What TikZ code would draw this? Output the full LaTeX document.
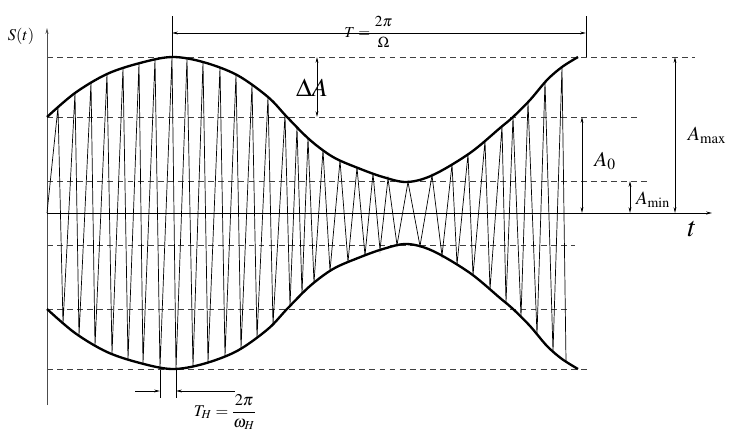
\documentclass[tikz,border=0pt]{standalone}
\usepackage{amsmath}
\usepackage{mathptmx}
\usetikzlibrary{arrows.meta,intersections}

\tikzset{
  envline/.style={line width=2pt, line join=round},
  carrier/.style={line width=0.6pt, line join=miter},
  guide/.style={black!75, line width=0.8pt, dash pattern=on 5pt off 3.6pt},
  axisline/.style={line width=0.7pt, -{Stealth[length=5pt,width=2.6pt]}},
  dimarrow/.style={line width=0.55pt, {Stealth[length=5pt,width=2.4pt]}-{Stealth[length=5pt,width=2.4pt]}},
  onearrow/.style={line width=0.55pt, -{Stealth[length=5pt,width=2.4pt]}},
  tick/.style={line width=0.55pt},
  lbl/.style={inner sep=0pt},
}

\begin{document}
\begin{tikzpicture}[x=0.03cm, y=-0.03cm]
\useasboundingbox (0,0) rectangle (731,438);

% dashed levels
\foreach \yy/\xend in {57/695, 117/638, 181/647, 245/575, 309/567, 369/587}
  \draw[guide] (47,\yy) -- (\xend,\yy);

% axes
\coordinate (O) at (47,213);
\coordinate (ybot) at (47,405);
\coordinate (ytop) at (47,28);
\coordinate (tend) at (712,213);
\draw[axisline, black!70] (ybot) -- (ytop);
\draw[axisline] (O) -- (tend);
\node[lbl] (St) at (21,36) {\fontsize{14}{16}\selectfont $S(t)$};
\node[lbl] (tlab) at (692,229) {\fontsize{24}{26}\selectfont $t$};

% envelope
\draw[envline, name path=upenv] plot[smooth, tension=0.55] coordinates {
  (47,117) (75,93) (107,74) (140,63) (172,57) (203,62) (237,75) (268,97)
  (287,117) (310,140) (333,157) (358,168) (383,177) (407,182) (433,175)
  (470,153) (500,128) (513,117) (530,100) (547,80) (562,67) (578,57)};
\draw[envline, name path=lowenv] plot[smooth, tension=0.55] coordinates {
  (47,309) (75,333) (107,352) (140,363) (172,369) (203,364) (237,351) (268,329)
  (287,309) (310,286) (333,269) (358,258) (383,249) (407,244) (433,251)
  (470,273) (500,298) (513,309) (530,326) (547,346) (562,359) (578,369)};

% carrier tips on the envelope
\foreach \xt/\xb [count=\k] in {58/63, 75/79, 91/95, 107/112, 123/128, 139/143,
    155/160, 172/176, 187/193, 203/208, 220/225, 236/241, 252/257, 268/273,
    285/290, 297/302, 308/314, 323/330, 340/348, 357/365, 373/380, 388/397,
    408/420, 432/442, 452/457, 468/473, 485/490, 502/506, 513/521, 528/537,
    545/553, 562/566} {
  \path[name path=vt] (\xt,0) -- (\xt,213);
  \path[name path=vb] (\xb,213) -- (\xb,438);
  \path[name intersections={of=upenv and vt, by={tp\k}}];
  \path[name intersections={of=lowenv and vb, by={bt\k}}];
}
\draw[carrier] (O) foreach \k in {1,...,32} { -- (tp\k) -- (bt\k) };

% period T
\coordinate (Ta) at (172,33);
\coordinate (Tb) at (586,33);
\draw[tick] (172,16) -- (172,57);
\draw[tick] (586,16) -- (586,57);
\draw[dimarrow] (Ta) -- (Tb);
\node[lbl] (Tlab) at (369,32) {\fontsize{13}{15}\selectfont $T=\dfrac{2\pi}{\Omega}$};

% amplitudes
\coordinate (dA1) at (317,57);   \coordinate (dA2) at (317,117);
\coordinate (A01) at (582,117);  \coordinate (A02) at (582,213);
\coordinate (Am1) at (630,181);  \coordinate (Am2) at (630,213);
\coordinate (AM1) at (675,57);   \coordinate (AM2) at (675,213);
\draw[dimarrow] (dA1) -- (dA2);
\draw[dimarrow] (A01) -- (A02);
\draw[dimarrow] (Am1) -- (Am2);
\draw[dimarrow] (AM1) -- (AM2);
\node[lbl] (dAlab) at (312,88) {\fontsize{22}{24}\selectfont $\Delta A$};
\node[lbl] (A0lab) at (605,161) {\fontsize{18}{20}\selectfont $A_0$};
\node[lbl] (Aminlab) at (653,200) {\fontsize{16}{18}\selectfont $A_{\min}$};
\node[lbl] (Amaxlab) at (707,135) {\fontsize{17}{19}\selectfont $A_{\max}$};

% carrier period
\coordinate (Th1) at (160,391);
\coordinate (Th2) at (176,391);
\coordinate (Thl) at (135,391);
\coordinate (Thr) at (235,391);
\draw[tick] (160,370) -- (160,398);
\draw[tick] (176,370) -- (176,398);
\draw[onearrow] (Thl) -- (Th1);
\draw[onearrow] (Thr) -- (Th2);
\node[lbl] (Thlab) at (225,412) {\fontsize{14}{16}\selectfont $T_H=\dfrac{2\pi}{\omega_H}$};
\end{tikzpicture}
\end{document}
